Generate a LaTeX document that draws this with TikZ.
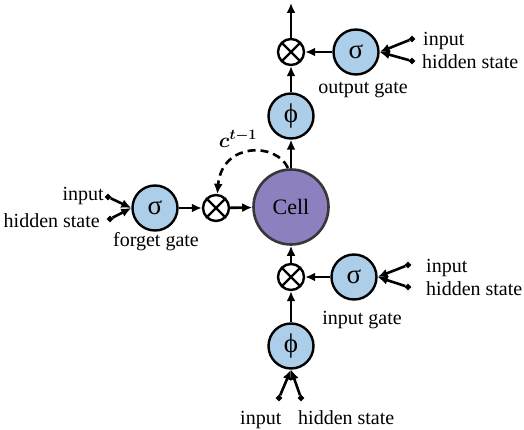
\documentclass[tikz,border=0pt]{standalone}
\usepackage{amsmath}
\usepackage{fontspec}
\setmainfont{Liberation Serif}
\usetikzlibrary{arrows.meta}

\definecolor{gateblue}{RGB}{172,206,232}
\definecolor{cellpurple}{RGB}{142,128,190}
\definecolor{celledge}{RGB}{55,55,55}

\tikzset{
  gate/.style={circle,draw,line width=2.4pt,fill=gateblue,minimum size=45pt,
    inner sep=0pt,font=\fontsize{27}{29}\selectfont},
  mult/.style={circle,draw,line width=2.4pt,fill=white,minimum size=26pt,inner sep=0pt,
    path picture={\draw[line width=2.4pt]
      (path picture bounding box.north west) -- (path picture bounding box.south east)
      (path picture bounding box.north east) -- (path picture bounding box.south west);}},
  dot/.style={circle,draw,line width=2.4pt,fill=white,inner sep=0pt,minimum size=3.4pt},
  lbl/.style={inner sep=0pt,font=\fontsize{20}{22}\selectfont},
  flow/.style={line width=2.6pt,-{Latex[length=10pt,width=9pt]}},
}

\begin{document}
\begin{tikzpicture}[x=1pt,y=-1pt]
    \useasboundingbox (0,0) rectangle (524,430);
    \node (cell) [circle,draw=celledge,line width=2.6pt,fill=cellpurple,minimum size=75pt,
      font=\fontsize{22}{24}\selectfont] at (291,207) {Cell};
    % output gate
    \begin{scope}
      \node (phiT) [gate] at (291,116) {ϕ};
      \node (mulT) [mult] at (291,52) {};
      \node (sigO) [gate] at (356,52) {σ};
      \node (dO1) [dot] at (412,39) {};
      \node (dO2) [dot] at (412,61) {};
      \node (inO) [lbl,anchor=base west] at (423,46) {input};
      \node (hsO) [lbl,anchor=base west] at (422,69) {hidden state};
      \node (lblO) [lbl] at (363,90) {output gate};
      \coordinate (top) at (291,3);
    \end{scope}
    % forget gate
    \begin{scope}
      \node (fsig) [gate] at (155,208) {σ};
      \node (fmul) [mult] at (216,208) {};
      \node (dF1) [dot] at (108,197) {};
      \node (dF2) [dot] at (110,219) {};
      \node (inF) [lbl,anchor=base east] at (104,201) {input};
      \node (hsF) [lbl,anchor=base east] at (100,228) {hidden state};
      \node (lblF) [lbl] at (156,242) {forget gate};
    \end{scope}
    % input gate
    \begin{scope}
      \node (sigI) [gate] at (354,277) {σ};
      \node (mulB) [mult] at (291,277) {};
      \node (phiB) [gate] at (291,346) {ϕ};
      \node (dI1) [dot] at (408,265) {};
      \node (dI2) [dot] at (408,287) {};
      \node (inI) [lbl,anchor=base west] at (426,272) {input};
      \node (hsI) [lbl,anchor=base west] at (426,295) {hidden state};
      \node (lblI) [lbl] at (362,320) {input gate};
      \node (dB1) [dot] at (279,398) {};
      \node (dB2) [dot] at (301,398) {};
      \node (inB) [lbl,anchor=base west] at (240,424) {input};
      \node (hsB) [lbl,anchor=base west] at (298,424) {hidden state};
    \end{scope}
    % connections
    \draw[flow] (cell) -- (phiT);
    \draw[flow] (phiT) -- (mulT);
    \draw[flow] (mulT) -- (top);
    \draw[flow] (sigO) -- (mulT);
    \draw[flow] (dO1) -- (sigO.east);
    \draw[flow] (dO2) -- (sigO.east);
    \draw[flow] (fsig) -- (fmul);
    \draw[flow] (fmul) -- (cell);
    \draw[flow] (dF1) -- (fsig.west);
    \draw[flow] (dF2) -- (fsig.west);
    \draw[flow] (phiB) -- (mulB);
    \draw[flow] (mulB) -- (cell);
    \draw[flow] (sigI) -- (mulB);
    \draw[flow] (dI1) -- (sigI.east);
    \draw[flow] (dI2) -- (sigI.east);
    \draw[flow] (dB1) -- (phiB.south);
    \draw[flow] (dB2) -- (phiB.south);
    % previous cell state
    \coordinate (cprev) at (288,168);
    \draw[flow,dash pattern=on 8pt off 5pt] (cprev) .. controls (276,142) and (222,142) .. (fmul);
    \node (clbl) [font=\fontsize{21}{24}\selectfont] at (238,139) {$\boldsymbol{c^{t-1}}$};
\end{tikzpicture}
\end{document}
